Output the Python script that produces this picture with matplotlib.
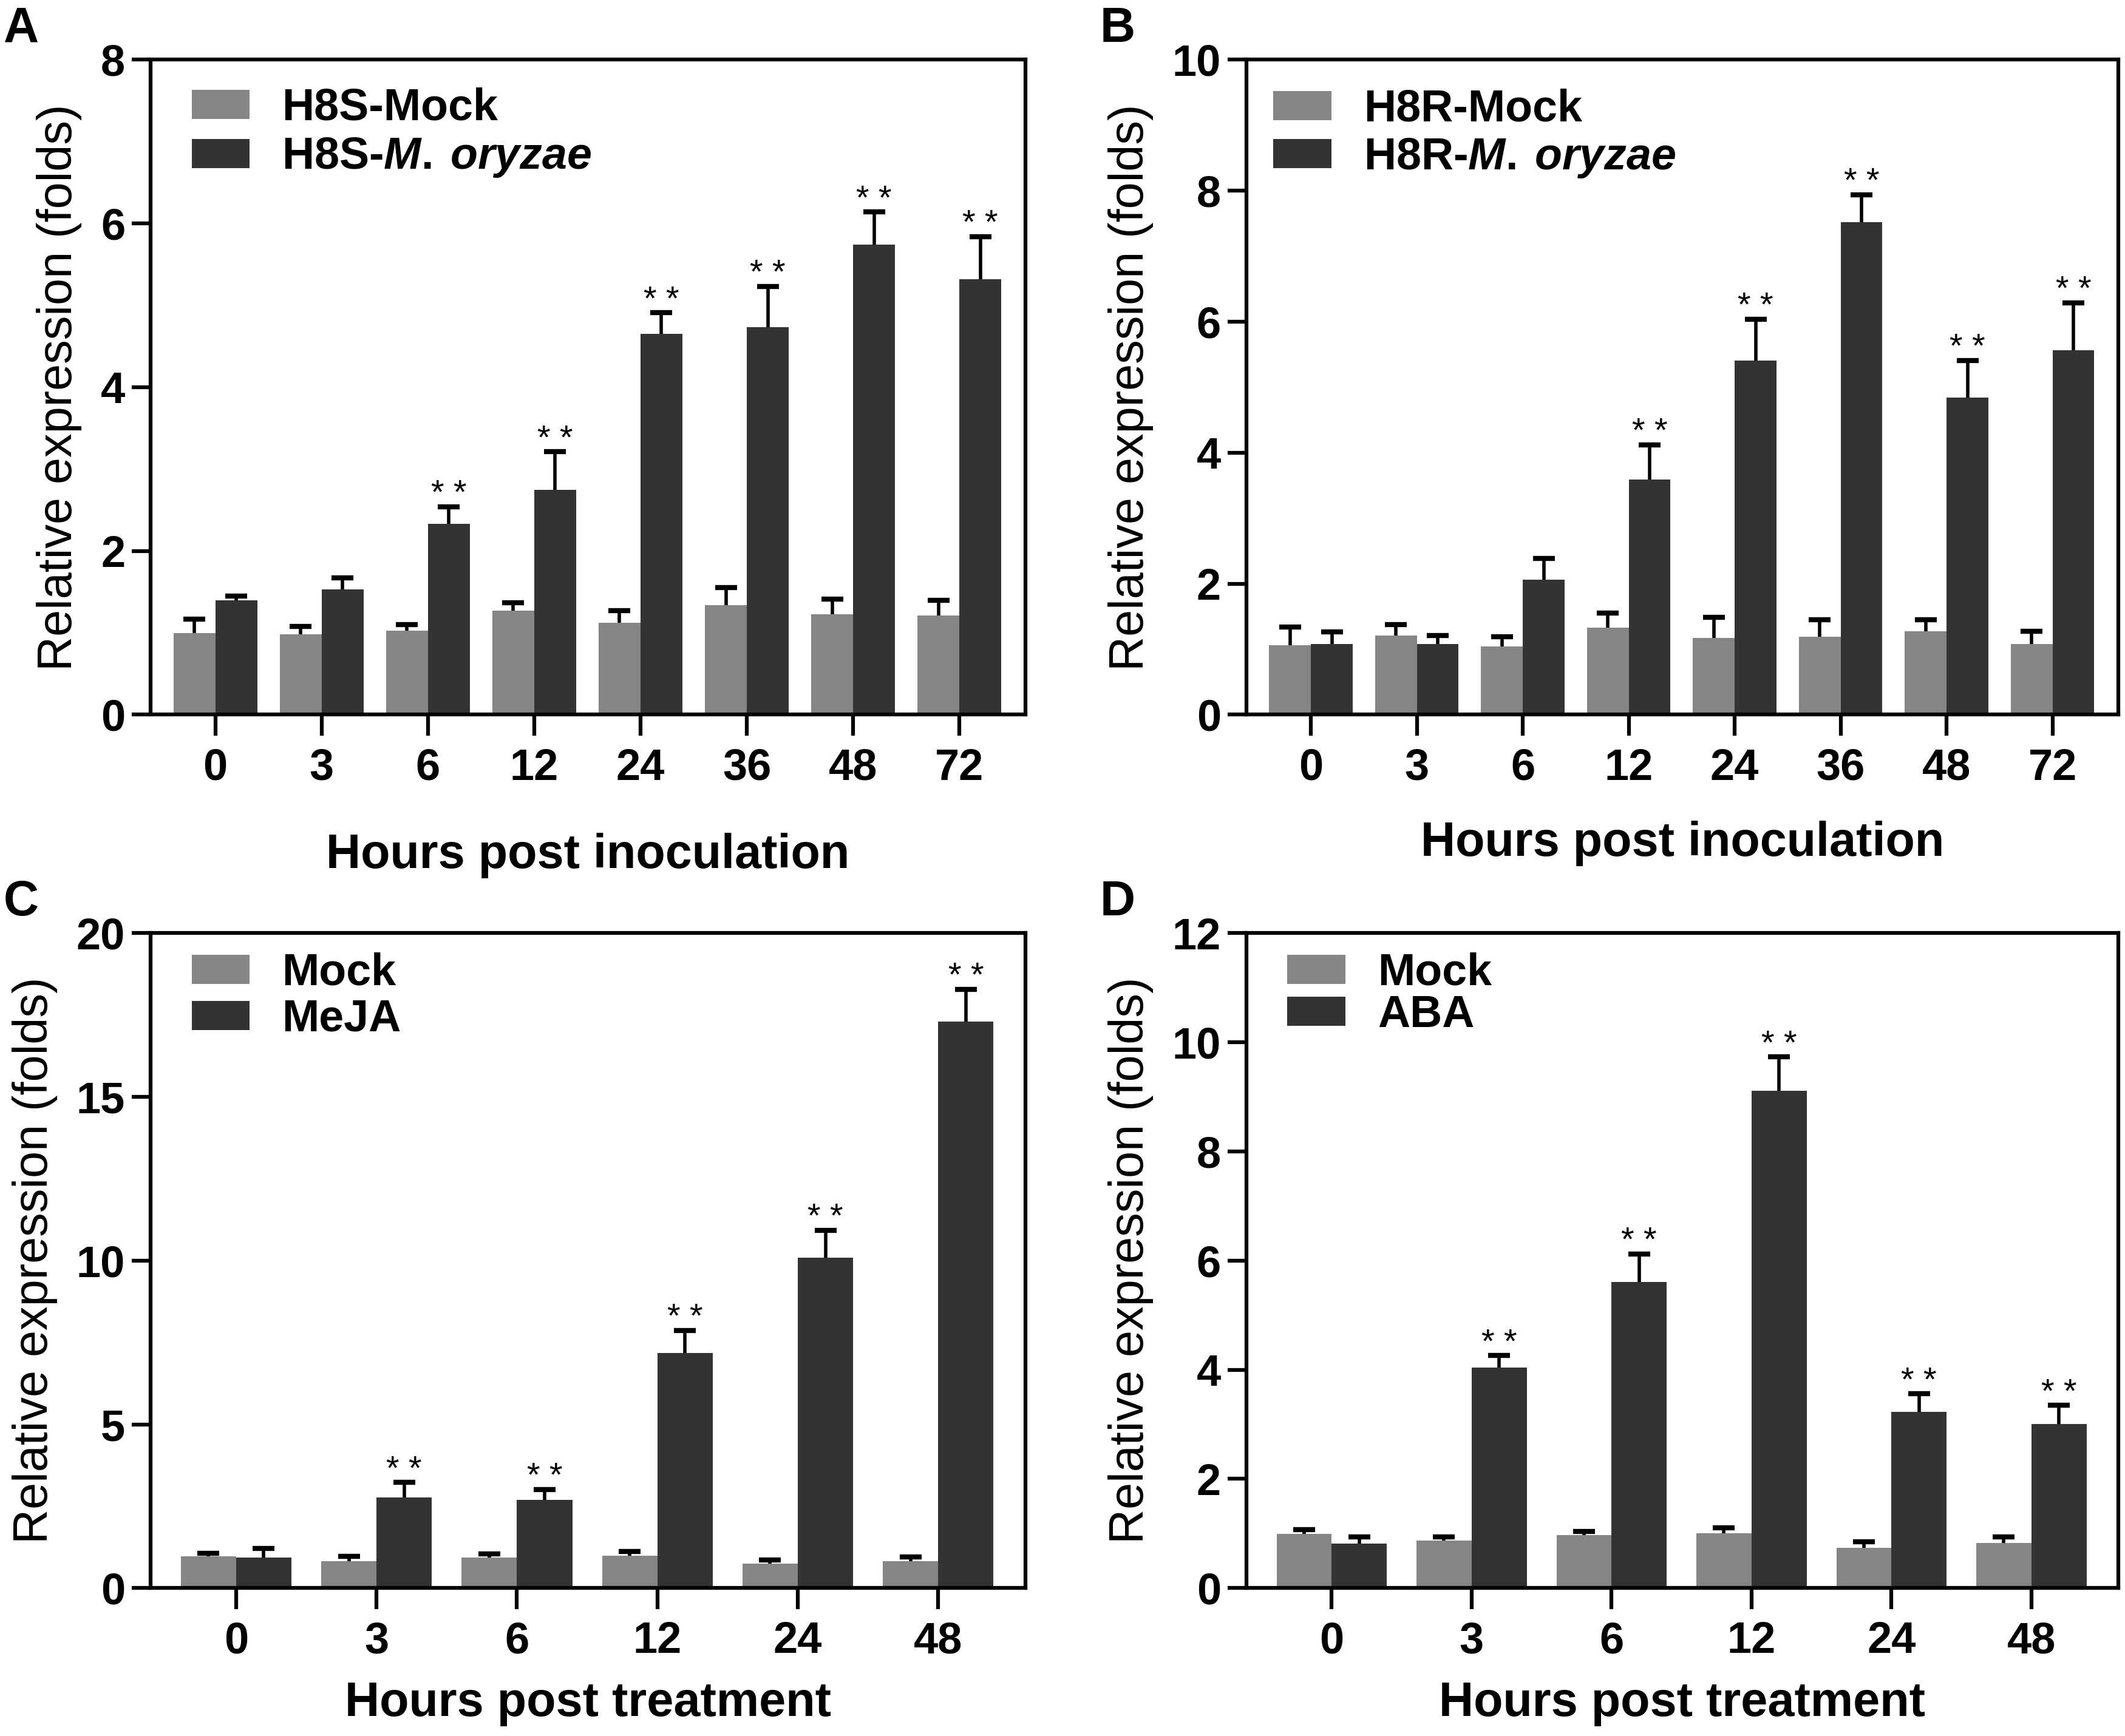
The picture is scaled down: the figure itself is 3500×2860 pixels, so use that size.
import matplotlib.pyplot as plt
import numpy as np

plt.rcParams['font.family'] = ['Liberation Sans', 'DejaVu Sans']
plt.rcParams['mathtext.fontset'] = 'custom'
plt.rcParams['mathtext.rm'] = 'Liberation Sans:bold'
plt.rcParams['mathtext.it'] = 'Liberation Sans:italic:bold'

MOCK_COLOR = '#858585'
TREAT_COLOR = '#333333'

# A: H8S, hours post inoculation
hpi = ['0', '3', '6', '12', '24', '36', '48', '72']
h8s_mock = [1.00, 0.98, 1.03, 1.27, 1.12, 1.34, 1.23, 1.21]
h8s_mock_err = [0.17, 0.10, 0.07, 0.10, 0.15, 0.21, 0.18, 0.19]
h8s_mo = [1.40, 1.53, 2.33, 2.75, 4.65, 4.73, 5.74, 5.32]
h8s_mo_err = [0.05, 0.14, 0.21, 0.46, 0.26, 0.50, 0.40, 0.52]
h8s_sig = [0, 0, 1, 1, 1, 1, 1, 1]

# B: H8R, hours post inoculation
h8r_mock = [1.06, 1.21, 1.04, 1.33, 1.17, 1.19, 1.27, 1.08]
h8r_mock_err = [0.28, 0.17, 0.15, 0.22, 0.32, 0.26, 0.18, 0.19]
h8r_mo = [1.08, 1.08, 2.06, 3.59, 5.41, 7.52, 4.84, 5.56]
h8r_mo_err = [0.18, 0.13, 0.33, 0.53, 0.63, 0.42, 0.57, 0.73]
h8r_sig = [0, 0, 0, 1, 1, 1, 1, 1]

# C: MeJA, hours post treatment
hpt = ['0', '3', '6', '12', '24', '48']
meja_mock = [0.97, 0.83, 0.93, 0.99, 0.75, 0.83]
meja_mock_err = [0.10, 0.14, 0.12, 0.13, 0.10, 0.12]
meja = [0.93, 2.77, 2.70, 7.17, 10.08, 17.30]
meja_err = [0.29, 0.46, 0.31, 0.70, 0.85, 0.98]
meja_sig = [0, 1, 1, 1, 1, 1]

# D: ABA, hours post treatment
aba_mock = [0.99, 0.87, 0.97, 1.01, 0.74, 0.83]
aba_mock_err = [0.08, 0.07, 0.07, 0.09, 0.11, 0.11]
aba = [0.82, 4.04, 5.61, 9.11, 3.23, 3.01]
aba_err = [0.12, 0.22, 0.51, 0.62, 0.33, 0.34]
aba_sig = [0, 1, 1, 1, 1, 1]


def upper_errorbar(ax, x, vals, errs):
    vals = np.asarray(vals)
    eb = ax.errorbar(x, vals, yerr=[np.zeros(len(vals)), errs], fmt='none',
                     ecolor='black', elinewidth=4, capsize=13, capthick=6,
                     zorder=3)
    # keep only the upper caps
    for cl in eb[1]:
        if np.allclose(cl.get_ydata(), vals):
            cl.remove()


def draw_panel(ax, letter, labels, mock, mock_err, treat, treat_err, sig,
               names, ymax, ystep, xlabel, xlabelpad, leg_xy, leg_space):
    n = len(labels)
    x = np.arange(n)
    w = 0.394
    ax.bar(x - w / 2, mock, w, color=MOCK_COLOR, label=names[0], zorder=2)
    ax.bar(x + w / 2, treat, w, color=TREAT_COLOR, label=names[1], zorder=2)
    upper_errorbar(ax, x - w / 2, mock, mock_err)
    upper_errorbar(ax, x + w / 2, treat, treat_err)
    for xi, v, e, s in zip(x, treat, treat_err, sig):
        if s:
            ax.annotate('* *', (xi + w / 2, v + e), xytext=(0, 4),
                        textcoords='offset points', ha='center',
                        va='baseline', fontsize=40)

    ax.set_xlim(-0.61, n - 1 + 0.62)
    ax.set_ylim(0, ymax)
    ax.set_yticks(np.arange(0, ymax + 0.01, ystep))
    ax.set_xticks(x)
    ax.set_xticklabels(labels)
    for sp in ax.spines.values():
        sp.set_linewidth(4.5)
    ax.tick_params(axis='y', length=22, width=4.5, pad=8, labelsize=52)
    ax.tick_params(axis='x', length=25, width=4.5, pad=14, labelsize=52)
    for t in ax.get_xticklabels() + ax.get_yticklabels():
        t.set_fontweight('bold')
    ax.set_ylabel('Relative expression (folds)', fontsize=57, labelpad=22)
    ax.set_xlabel(xlabel, fontsize=57, fontweight='bold', labelpad=xlabelpad)

    ax.legend(loc='upper left', bbox_to_anchor=leg_xy, frameon=False,
              borderpad=0, borderaxespad=0, handlelength=1.3,
              handleheight=0.63, handletextpad=0.72, labelspacing=leg_space,
              prop={'size': 53, 'weight': 'bold'})
    ax.text(-0.168, 1.082, letter, transform=ax.transAxes, fontsize=58,
            fontweight='bold', ha='left', va='top')


fig = plt.figure(figsize=(35, 28.6), dpi=100)
ax_a = fig.add_axes([0.0708, 0.5883, 0.4117, 0.3773])
ax_b = fig.add_axes([0.5865, 0.5883, 0.4103, 0.3773])
ax_c = fig.add_axes([0.0708, 0.0852, 0.4117, 0.3773])
ax_d = fig.add_axes([0.5865, 0.0852, 0.4103, 0.3773])

draw_panel(ax_a, 'A', hpi, h8s_mock, h8s_mock_err, h8s_mo, h8s_mo_err,
           h8s_sig, ['H8S-Mock', r'H8S-$\mathit{M.\:oryzae}$'],
           8, 2, 'Hours post inoculation', 52, (0.047, 0.958), 0.16)
draw_panel(ax_b, 'B', hpi, h8r_mock, h8r_mock_err, h8r_mo, h8r_mo_err,
           h8r_sig, ['H8R-Mock', r'H8R-$\mathit{M.\:oryzae}$'],
           10, 2, 'Hours post inoculation', 38, (0.031, 0.956), 0.14)
draw_panel(ax_c, 'C', hpt, meja_mock, meja_mock_err, meja, meja_err,
           meja_sig, ['Mock', 'MeJA'], 20, 5,
           'Hours post treatment', 22, (0.047, 0.971), 0.1)
draw_panel(ax_d, 'D', hpt, aba_mock, aba_mock_err, aba, aba_err,
           aba_sig, ['Mock', 'ABA'], 12, 2,
           'Hours post treatment', 22, (0.047, 0.971), 0.0)

fig.savefig('out.png', dpi=100)
